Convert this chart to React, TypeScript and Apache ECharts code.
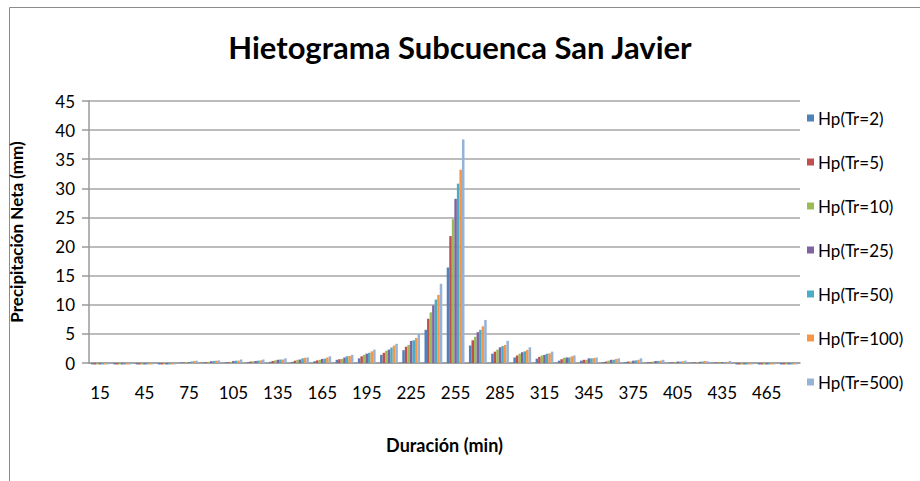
import React, { useEffect, useRef } from "react";
import * as echarts from "echarts";

const categories = ["15","30","45","60","75","90","105","120","135","150","165","180","195","210","225","240","255","270","285","300","315","330","345","360","375","390","405","420","435","450","465","480"];

const seriesNames = ["Hp(Tr=2)","Hp(Tr=5)","Hp(Tr=10)","Hp(Tr=25)","Hp(Tr=50)","Hp(Tr=100)","Hp(Tr=500)"];
const colors = ["#4F81BD","#C0504D","#9BBB59","#8064A2","#4BACC6","#F79646","#95B3D7"];

const hpTr2 = [-0.25,-0.25,-0.25,-0.25,0.1,0.1,0.1,0.15,0.2,0.2,0.3,0.55,0.8,1.4,2.2,5.7,16.4,3.0,1.6,0.95,0.75,0.4,0.4,0.15,0.15,0.15,0.1,0.1,0.1,-0.25,-0.25,-0.25];
const hpTr5 = [-0.25,-0.25,-0.25,-0.25,0.1,0.15,0.15,0.25,0.35,0.4,0.45,0.65,1.15,1.75,2.8,7.6,21.8,3.9,1.95,1.3,1.05,0.65,0.55,0.25,0.25,0.15,0.1,0.1,0.1,-0.25,-0.25,-0.25];
const hpTr10 = [-0.25,-0.25,-0.25,-0.25,0.15,0.2,0.2,0.3,0.45,0.55,0.55,0.7,1.4,2.1,3.1,8.7,24.7,4.5,2.3,1.6,1.3,0.9,0.55,0.4,0.25,0.25,0.15,0.1,0.1,-0.25,-0.25,-0.25];
const hpTr25 = [-0.25,-0.25,-0.25,-0.25,0.15,0.3,0.35,0.35,0.55,0.6,0.7,0.95,1.6,2.3,3.8,9.9,28.2,5.3,2.7,1.85,1.4,0.95,0.8,0.55,0.4,0.35,0.25,0.2,0.15,-0.25,-0.25,-0.25];
const hpTr50 = [-0.25,-0.25,-0.25,-0.25,0.25,0.35,0.4,0.4,0.6,0.8,0.75,1.15,1.75,2.65,3.9,10.9,30.8,5.7,2.9,2.0,1.6,0.95,0.8,0.55,0.45,0.35,0.25,0.25,0.15,-0.25,-0.25,-0.25];
const hpTr100 = [-0.25,-0.25,-0.25,-0.25,0.35,0.4,0.4,0.45,0.6,0.9,0.95,1.2,2.0,3.0,4.3,11.7,33.2,6.3,3.1,2.25,1.65,1.15,0.85,0.7,0.55,0.4,0.3,0.35,0.2,-0.25,-0.25,-0.25];
const hpTr500 = [-0.25,-0.25,-0.25,-0.25,0.4,0.45,0.6,0.6,0.8,0.95,1.15,1.4,2.3,3.3,5.0,13.6,38.4,7.4,3.8,2.7,1.95,1.3,0.95,0.8,0.8,0.55,0.4,0.3,0.35,-0.25,-0.25,-0.25];

const allSeries = [hpTr2, hpTr5, hpTr10, hpTr25, hpTr50, hpTr100, hpTr500];

const FONT = "Lato, 'Open Sans', sans-serif";

export default function App() {
  const ref = useRef<HTMLDivElement>(null);
  useEffect(() => {
    if (!ref.current) return;
    const chart = echarts.init(ref.current, null, { renderer: "svg" });
    chart.setOption({
      animation: false,
      backgroundColor: "#ffffff",
      color: colors,
      textStyle: { fontFamily: FONT },
      title: {
        text: "Hietograma Subcuenca San Javier",
        left: "center",
        top: 26,
        textStyle: { fontFamily: FONT, fontSize: 31, fontWeight: "bold", color: "#000" },
      },
      legend: {
        orient: "vertical",
        left: 802,
        top: 103,
        icon: "rect",
        itemWidth: 7,
        itemHeight: 7,
        itemGap: 24,
        data: seriesNames,
        textStyle: { fontFamily: FONT, fontSize: 17, color: "#000", lineHeight: 20, padding: [0, 0, 0, -1] },
      },
      grid: { left: 85, right: 120, top: 101, bottom: 118, containLabel: false },
      xAxis: {
        type: "category",
        data: categories,
        name: "Duración (min)",
        nameLocation: "middle",
        nameGap: 73,
        nameTextStyle: { fontFamily: FONT, fontSize: 18, fontWeight: "bold", color: "#000" },
        axisLine: { show: true, lineStyle: { color: "#9a9a9a", width: 1.5 } },
        axisTick: { show: false },
        axisLabel: { interval: 1, fontFamily: FONT, fontSize: 17, color: "#000", margin: 21 },
      },
      yAxis: {
        type: "value",
        min: 0,
        max: 45,
        interval: 5,
        name: "Precipitación Neta (mm)",
        nameLocation: "middle",
        nameGap: 64,
        nameTextStyle: { fontFamily: FONT, fontSize: 17, fontWeight: "bold", color: "#000" },
        axisLine: { show: true, lineStyle: { color: "#9a9a9a", width: 1.5 } },
        axisTick: { show: true, length: 7, lineStyle: { color: "#9a9a9a", width: 1.5 } },
        axisLabel: { fontFamily: FONT, fontSize: 17, color: "#000", margin: 14 },
        splitLine: { show: true, lineStyle: { color: "#a6a6a6", width: 1.5 } },
      },
      graphic: [
        { type: "line", shape: { x1: 9.5, y1: 7.5, x2: 920, y2: 7.5 }, style: { stroke: "#8c8c8c", lineWidth: 1 } },
        { type: "line", shape: { x1: 9.5, y1: 7.5, x2: 9.5, y2: 481 }, style: { stroke: "#8c8c8c", lineWidth: 1 } },
      ],
      series: allSeries.map((d, i) => ({
        name: seriesNames[i],
        type: "bar",
        data: d,
        barGap: "0%",
        barCategoryGap: "20%",
        clip: false,
        itemStyle: { color: colors[i] },
      })),
    });
    return () => chart.dispose();
  }, []);
  return <div ref={ref} style={{ position: "absolute", left: 0, top: 0, width: 920, height: 481 }} />;
}
